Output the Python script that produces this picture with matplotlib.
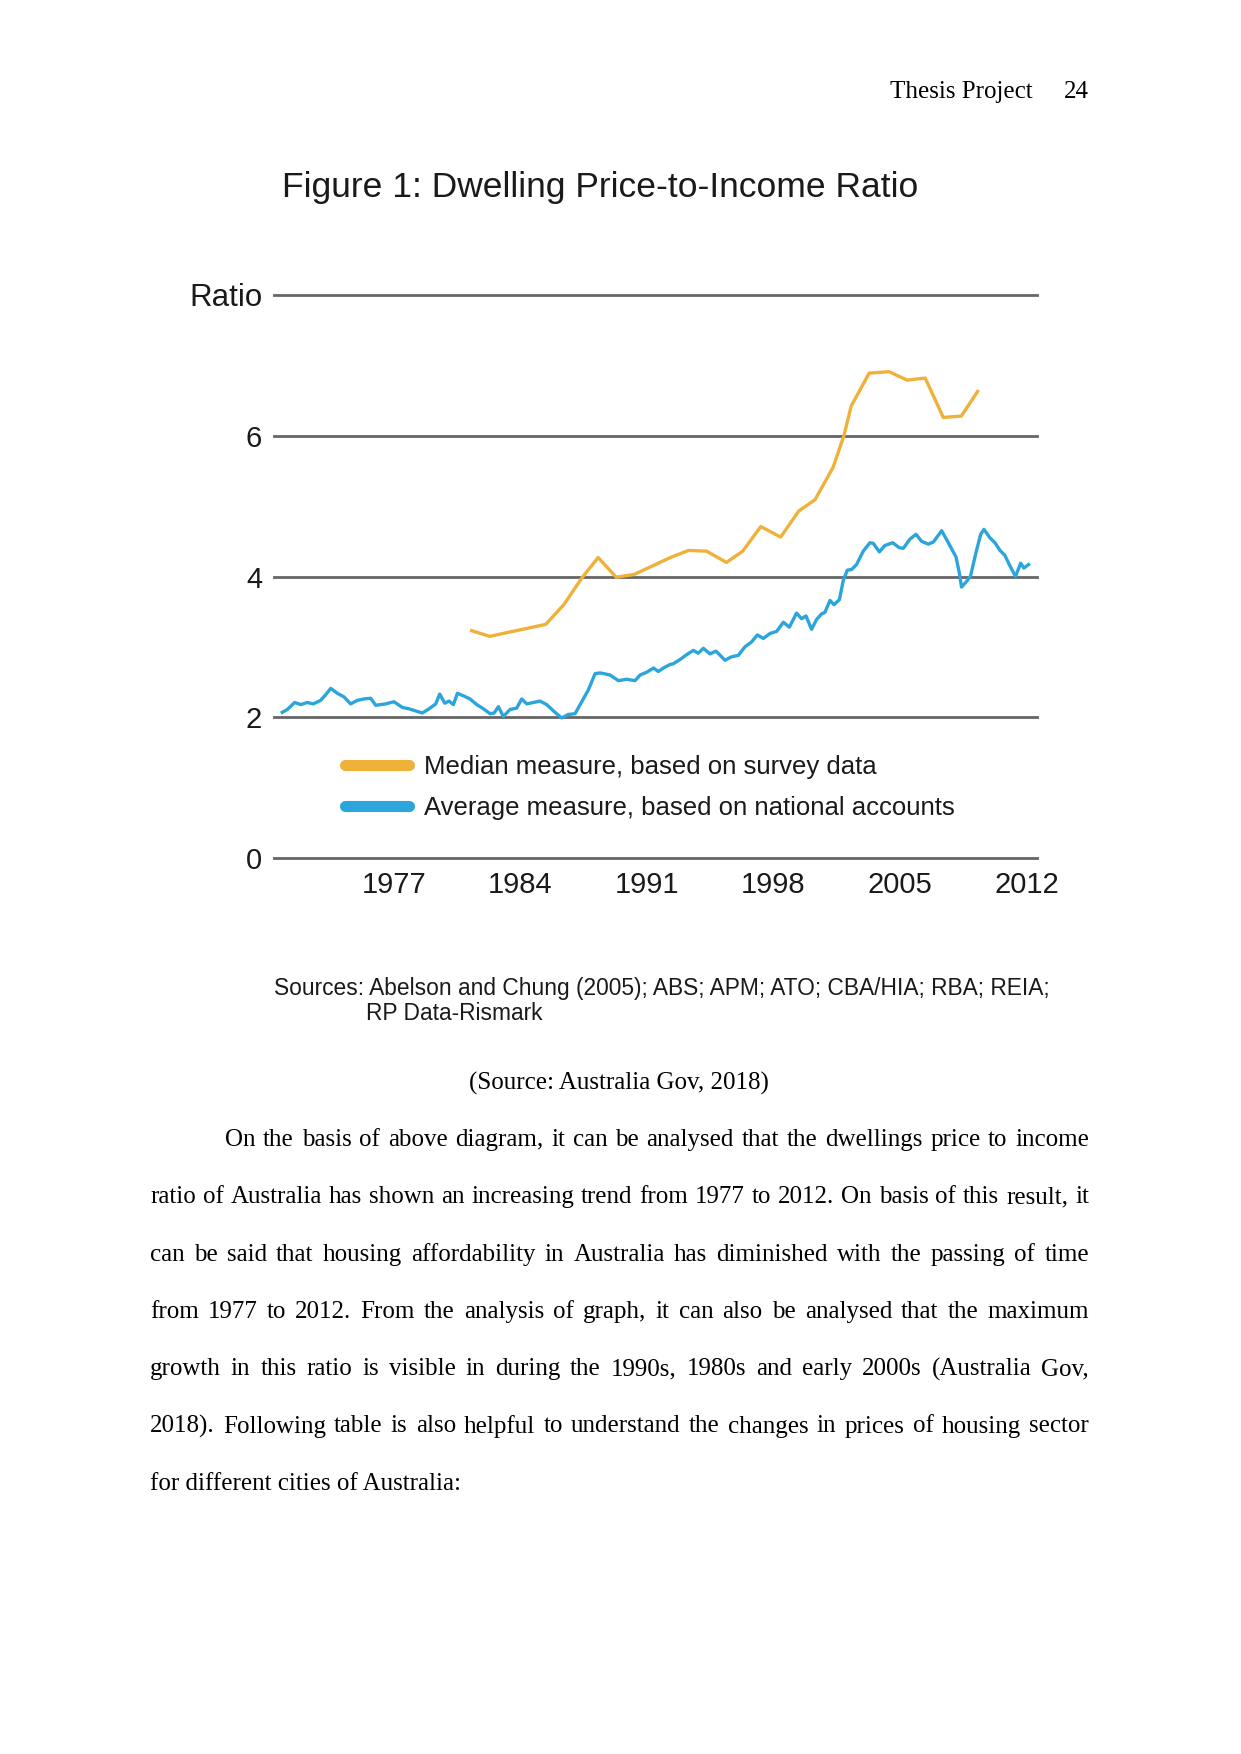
import matplotlib
matplotlib.use('Agg')
from matplotlib import pyplot as plt
from matplotlib.lines import Line2D

# Series
orange_year = [1981.3, 1982.3, 1985.4, 1986.4, 1987.4, 1988.3, 1989.3, 1990.3, 1991.3, 1992.3,
               1993.3, 1994.3, 1995.4, 1996.3, 1997.3, 1998.4, 1999.4, 2000.3, 2001.3, 2001.9,
               2002.3, 2003.3, 2004.4, 2005.4, 2006.4, 2007.4, 2008.4, 2009.3]
orange_ratio = [3.23, 3.15, 3.32, 3.60, 3.98, 4.27, 3.99, 4.03, 4.15, 4.27,
                4.37, 4.36, 4.20, 4.36, 4.71, 4.56, 4.93, 5.09, 5.55, 6.00,
                6.42, 6.89, 6.91, 6.79, 6.82, 6.26, 6.28, 6.63]

blue_year = [1970.82, 1971.10, 1971.50, 1971.84, 1972.20, 1972.54, 1972.94, 1973.22, 1973.50, 1973.87,
             1974.23, 1974.60, 1974.97, 1975.34, 1975.71, 1975.99, 1976.54, 1977.00, 1977.46, 1977.83,
             1978.20, 1978.57, 1978.94, 1979.31, 1979.53, 1979.81, 1980.05, 1980.29, 1980.51, 1980.88,
             1981.21, 1981.58, 1981.95, 1982.32, 1982.54, 1982.78, 1983.05, 1983.42, 1983.79, 1984.07,
             1984.35, 1984.72, 1985.08, 1985.45, 1985.91, 1986.28, 1986.65, 1987.02, 1987.39, 1987.76,
             1988.13, 1988.41, 1988.96, 1989.42, 1989.88, 1990.34, 1990.62, 1990.99, 1991.36, 1991.63,
             1991.91, 1992.28, 1992.46, 1992.83, 1993.20, 1993.57, 1993.84, 1994.12, 1994.49, 1994.82,
             1995.32, 1995.69, 1996.06, 1996.42, 1996.79, 1997.11, 1997.44, 1997.81, 1998.18, 1998.55,
             1998.88, 1999.28, 1999.56, 1999.80, 2000.11, 2000.39, 2000.67, 2000.85, 2001.13, 2001.35,
             2001.65, 2001.87, 2002.09, 2002.33, 2002.60, 2002.97, 2003.34, 2003.53, 2003.86, 2004.17,
             2004.60, 2004.96, 2005.19, 2005.55, 2005.89, 2006.20, 2006.57, 2006.85, 2007.31, 2007.68,
             2008.10, 2008.29, 2008.41, 2008.69, 2008.91, 2009.21, 2009.47, 2009.65, 2009.98, 2010.26,
             2010.54, 2010.81, 2011.09, 2011.40, 2011.68, 2011.86, 2012.12]
blue_ratio = [2.07, 2.11, 2.21, 2.18, 2.21, 2.19, 2.24, 2.32, 2.41, 2.34,
              2.29, 2.19, 2.24, 2.26, 2.27, 2.17, 2.19, 2.22, 2.14, 2.12,
              2.09, 2.06, 2.12, 2.19, 2.33, 2.20, 2.23, 2.18, 2.34, 2.30,
              2.26, 2.18, 2.12, 2.05, 2.06, 2.15, 2.01, 2.11, 2.13, 2.26,
              2.19, 2.21, 2.23, 2.18, 2.07, 1.99, 2.04, 2.05, 2.22, 2.39,
              2.62, 2.63, 2.60, 2.52, 2.54, 2.52, 2.60, 2.64, 2.70, 2.65,
              2.70, 2.75, 2.76, 2.82, 2.89, 2.95, 2.91, 2.98, 2.90, 2.94,
              2.81, 2.86, 2.88, 3.00, 3.07, 3.17, 3.12, 3.19, 3.22, 3.35,
              3.28, 3.48, 3.40, 3.44, 3.25, 3.39, 3.47, 3.49, 3.66, 3.60,
              3.67, 3.95, 4.09, 4.10, 4.17, 4.36, 4.48, 4.47, 4.35, 4.44,
              4.48, 4.41, 4.40, 4.53, 4.60, 4.50, 4.46, 4.49, 4.65, 4.48,
              4.28, 4.05, 3.85, 3.93, 4.01, 4.34, 4.60, 4.67, 4.55, 4.48,
              4.37, 4.30, 4.15, 4.00, 4.19, 4.12, 4.17]

year_ticks = [1977, 1984, 1991, 1998, 2005, 2012]
ratio_ticks = [0, 2, 4, 6, 8]
ratio_labels = ['0', '2', '4', '6', 'Ratio']

series_labels = ['Median measure, based on survey data', 'Average measure, based on national accounts']

body_lines = [
    "On the basis of above diagram, it can be analysed that the dwellings price to income",
    "ratio of Australia has shown an increasing trend from 1977 to 2012. On basis of this result, it",
    "can be said that housing affordability in Australia has diminished with the passing of time",
    "from 1977 to 2012. From the analysis of graph, it can also be analysed that the maximum",
    "growth in this ratio is visible in during the 1990s, 1980s and early 2000s (Australia Gov,",
    "2018). Following table is also helpful to understand the changes in prices of housing sector",
    "for different cities of Australia:",
]

orange = '#f0b13a'
blue = '#2ba5db'
grid_color = '#666666'
ink = '#1a1a1a'
W, H = 1241, 1754


def fx(px):
    return px / W


def fy(py):
    return 1 - py / H


fig = plt.figure(figsize=(W / 100, H / 100), dpi=100, facecolor='white')

sans = 'Liberation Sans'
serif = 'Liberation Serif'

# Page header
fig.text(fx(1033), fy(92), 'Thesis Project', ha='right', va='center', family=serif, fontsize=18)
fig.text(fx(1089), fy(92), '24', ha='right', va='center', family=serif, fontsize=18)

# Chart title
fig.text(fx(600), fy(187), 'Figure 1: Dwelling Price-to-Income Ratio', ha='center', va='center',
         family=sans, fontsize=25.5, color=ink)

ax = fig.add_axes([fx(274), fy(858), (1036.7 - 274) / W, (858 - 295) / H])
ax.set_xlim(1970.36, 2012.57)
ax.set_ylim(0, 8)
for v in ratio_ticks:
    ax.axhline(v, color=grid_color, lw=2.0, zorder=1, clip_on=False)

ax.plot(orange_year, orange_ratio, color=orange, lw=2.4, zorder=3, solid_joinstyle='round')
ax.plot(blue_year, blue_ratio, color=blue, lw=2.4, zorder=3, solid_joinstyle='round')

for s in ax.spines.values():
    s.set_visible(False)
ax.set_yticks(ratio_ticks, ratio_labels)
ax.set_xticks(year_ticks, [str(y) for y in year_ticks])
ax.tick_params(axis='y', length=0, pad=8.5, labelsize=21, labelcolor=ink)
ax.tick_params(axis='x', length=0, pad=9.5, labelsize=21, labelcolor=ink)
for lab in ax.get_xticklabels() + ax.get_yticklabels():
    lab.set_family(sans)
ax.get_yticklabels()[-1].set_fontsize(22.5)

handles = [Line2D([], [], color=orange, lw=8, solid_capstyle='round'),
           Line2D([], [], color=blue, lw=8, solid_capstyle='round')]
ax.legend(handles, series_labels, loc='center left', bbox_to_anchor=(fx(344.5), fy(787.5)),
          bbox_transform=fig.transFigure, frameon=False, borderpad=0, borderaxespad=0,
          handlelength=2.5, handletextpad=0.6, labelspacing=0.65,
          prop={'family': sans, 'size': 18.5}, labelcolor=ink)

# Sources note
fig.text(fx(274), fy(988), 'Sources: Abelson and Chung (2005); ABS; APM; ATO; CBA/HIA; RBA; REIA;',
         ha='left', va='center', family=sans, fontsize=16.4, color=ink)
fig.text(fx(366), fy(1014), 'RP Data-Rismark', ha='left', va='center', family=sans, fontsize=16.4,
         color=ink)

fig.text(fx(619), fy(1083), '(Source: Australia Gov, 2018)', ha='center', va='center',
         family=serif, fontsize=18)

# Justified body text
renderer = fig.canvas.get_renderer()
baseline = 1146
for i, line in enumerate(body_lines):
    y = baseline + i * 57.3
    x0 = 225 if i == 0 else 150
    if i == len(body_lines) - 1:
        fig.text(fx(x0), fy(y), line, ha='left', va='baseline', family=serif, fontsize=18)
        continue
    words = line.split()
    texts = [fig.text(0, 0, w, ha='left', va='baseline', family=serif, fontsize=18) for w in words]
    widths = [t.get_window_extent(renderer).width for t in texts]
    gap = (1089 - x0 - sum(widths)) / (len(words) - 1)
    x = x0
    for t, w in zip(texts, widths):
        t.set_position((fx(x), fy(y)))
        x += w + gap

fig.savefig('out.png', dpi=100, facecolor='white')
